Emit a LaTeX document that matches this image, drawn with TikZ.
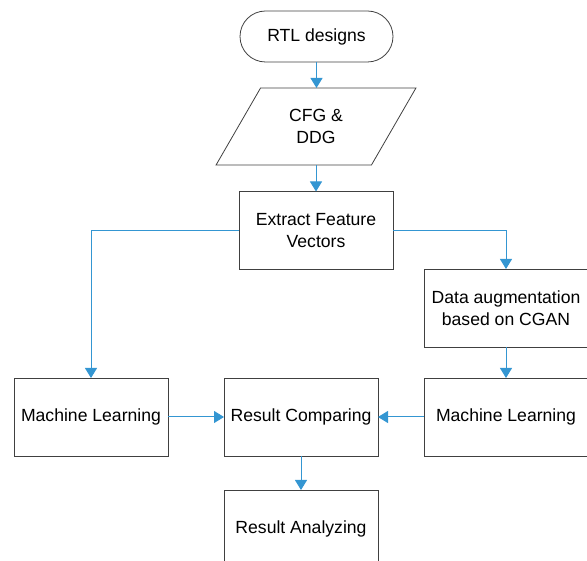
\documentclass[tikz,border=0pt]{standalone}
\usepackage{fontspec}
\setmainfont{Liberation Sans}
\usetikzlibrary{arrows.meta,shapes.geometric,positioning}
\definecolor{flowblue}{RGB}{52,150,210}
\tikzset{
  base/.style={font=\fontsize{17.6}{21.5}\selectfont, align=center, inner sep=2pt, outer sep=0mm, draw=black!75, line width=0.8pt},
  terminal/.style={rectangle, rounded corners=25.5pt, minimum width=153pt, minimum height=51pt, base},
  iobox/.style={trapezium, trapezium left angle=58.6, trapezium right angle=121.4, trapezium stretches=true, minimum width=200pt, minimum height=77pt, base},
  proc/.style={rectangle, minimum width=154pt, minimum height=78pt, base},
  wideproc/.style={proc, minimum width=164pt},
  arrow/.style={-{Triangle[width=12pt,length=10pt]}, line width=1pt, color=flowblue}
}
\begin{document}
\begin{tikzpicture}[x=1pt, y=-1pt]
    \useasboundingbox (0,0) rectangle (587,561);

    \node[terminal] (rtl) at (316.5,36.5) {RTL designs};
    \node[iobox] (graphs) at (316,126.5) {CFG \&\\DDG};
    \node[proc] (extract) at (316,230.5) {Extract Feature\\Vectors};
    \node[wideproc] (augment) at (506,308) {Data augmentation\\based on CGAN};
    \node[proc] (mlleft) at (91,417) {Machine Learning};
    \node[proc] (compare) at (301,417) {Result Comparing};
    \node[wideproc] (mlright) at (506,417) {Machine Learning};
    \node[proc] (analyze) at (301,529) {Result Analyzing};

    \draw[arrow] (rtl.south) -- (rtl.south |- graphs.north);
    \draw[arrow] (graphs.south) -- (graphs.south |- extract.north);
    \draw[arrow] (extract.west) -| (mlleft.north);
    \draw[arrow] (extract.east) -| (augment.north);
    \draw[arrow] (augment) -- (mlright);
    \draw[arrow] (mlleft) -- (compare);
    \draw[arrow] (mlright) -- (compare);
    \draw[arrow] (compare) -- (analyze);
\end{tikzpicture}
\end{document}
